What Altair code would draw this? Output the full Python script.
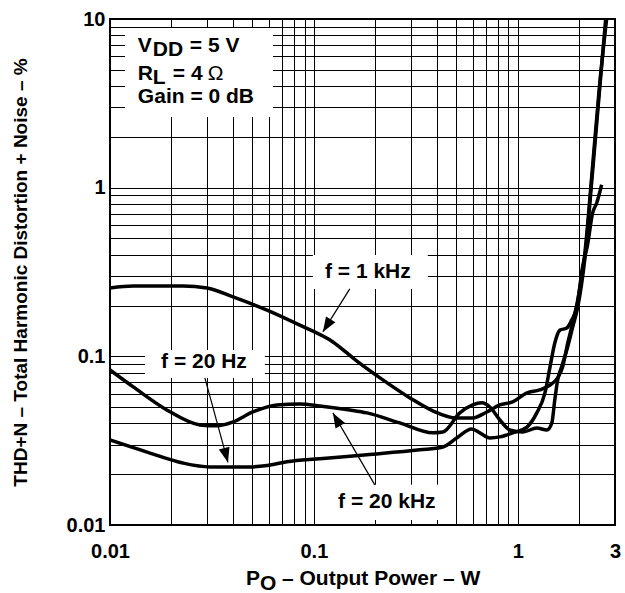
import altair as alt
import pandas as pd

# THD+N (%) versus output power (W), one trace per test frequency
p_1khz = [0.01, 0.013, 0.0228, 0.0299, 0.0401, 0.0589, 0.0853, 0.124, 0.162, 0.211,
          0.296, 0.383, 0.502, 0.601, 0.705, 0.817, 0.944, 1.11, 1.28, 1.44,
          1.57, 1.66, 1.76, 1.86, 1.97, 2.13, 2.31, 2.52, 2.73]
thd_1khz = [0.254, 0.261, 0.261, 0.254, 0.225, 0.188, 0.153, 0.1217, 0.094, 0.0745,
            0.0567, 0.0475, 0.0431, 0.0431, 0.0468, 0.0515, 0.0537, 0.0607, 0.0632, 0.0676,
            0.0745, 0.0865, 0.120, 0.158, 0.216, 0.399, 1.19, 4.06, 10]

p_20khz = [0.01, 0.013, 0.019, 0.0276, 0.0335, 0.0401, 0.0502, 0.0659, 0.0853, 0.107,
           0.15, 0.182, 0.264, 0.383, 0.429, 0.52, 0.601, 0.667, 0.73, 0.817,
           0.914, 1.06, 1.24, 1.39, 1.47, 1.52, 1.57, 1.64, 1.74, 1.86,
           1.97, 2.13, 2.31, 2.52, 2.70]
thd_20khz = [0.083, 0.0659, 0.0481, 0.0392, 0.0387, 0.0408, 0.0468, 0.0515, 0.0522, 0.0508,
             0.0481, 0.0462, 0.0403, 0.0352, 0.0356, 0.0462, 0.0515, 0.053, 0.0501, 0.042,
             0.0366, 0.0356, 0.0376, 0.0366, 0.0403, 0.0552, 0.0724, 0.0865, 0.109, 0.149,
             0.196, 0.372, 1.11, 3.79, 10]

p_20hz = [0.01, 0.0157, 0.0228, 0.0309, 0.0485, 0.0589, 0.0738, 0.107, 0.182, 0.331, 0.429,
          0.502, 0.595, 0.652, 0.73, 0.817, 0.944, 1.11, 1.24, 1.36, 1.44,
          1.52, 1.61, 1.74, 1.84, 1.95, 2.08, 2.20, 2.33, 2.44, 2.58]
thd_20hz = [0.0319, 0.0267, 0.0233, 0.0221, 0.0221, 0.0225, 0.0237, 0.0247, 0.0261, 0.0279, 0.029,
            0.0328, 0.0371, 0.0352, 0.0328, 0.0333, 0.0352, 0.0381, 0.0462, 0.0607, 0.0865,
            0.120, 0.143, 0.147, 0.164, 0.196, 0.339, 0.457, 0.708, 0.811, 1.04]

# log grid lines (every 1..9 step of each decade)
x_grid = [0.01, 0.02, 0.03, 0.04, 0.05, 0.06, 0.07, 0.08, 0.09,
          0.1, 0.2, 0.3, 0.4, 0.5, 0.6, 0.7, 0.8, 0.9, 1, 2, 3]
y_grid = [0.01, 0.02, 0.03, 0.04, 0.05, 0.06, 0.07, 0.08, 0.09,
          0.1, 0.2, 0.3, 0.4, 0.5, 0.6, 0.7, 0.8, 0.9,
          1, 2, 3, 4, 5, 6, 7, 8, 9, 10]
x_labels = [0.01, 0.1, 1, 3]
y_labels = [0.01, 0.1, 1, 10]

# frequency labels: text anchor, white backing box, arrow tail -> tip
labels = ["f = 1 kHz", "f = 20 Hz", "f = 20 kHz"]
label_x = [0.184, 0.0289, 0.228]
label_y = [0.292, 0.0853, 0.01263]
box_x = [0.0989, 0.01486, 0.124]
box_x2 = [0.362, 0.0575, 0.415]
box_y = [0.251, 0.0745, 0.01072]
box_y2 = [0.399, 0.109, 0.0173]
tail_x = [0.15, 0.0292, 0.199]
tail_y = [0.251, 0.0745, 0.0173]
tip_x = [0.1107, 0.0379, 0.124]
tip_y = [0.1396, 0.0235, 0.0462]
tip_angle = [212, 165, 330]

FONT = "Liberation Sans"

rows = []
for name, ps, ts in [("f = 1 kHz", p_1khz, thd_1khz),
                     ("f = 20 kHz", p_20khz, thd_20khz),
                     ("f = 20 Hz", p_20hz, thd_20hz)]:
    for i, (p, t) in enumerate(zip(ps, ts)):
        rows.append({"f": name, "i": i, "P": p, "THD": t})
curves = pd.DataFrame(rows)

notes = pd.DataFrame({
    "text": labels, "lx": label_x, "ly": label_y,
    "bx": box_x, "bx2": box_x2, "by": box_y, "by2": box_y2,
    "tx": tail_x, "ty": tail_y, "hx": tip_x, "hy": tip_y, "ang": tip_angle,
})
# white box behind the operating-conditions block
cond_box = pd.DataFrame({"bx": [0.01185], "bx2": [0.063], "by": [2.62], "by2": [8.84]})
boxes = pd.concat([cond_box, notes[["bx", "bx2", "by", "by2"]]], ignore_index=True)

xs = alt.Scale(type="log", domain=[0.01, 3], nice=False)
ys = alt.Scale(type="log", domain=[0.01, 10], nice=False)

x_axis = alt.Axis(
    values=x_grid, grid=True, ticks=False, tickSize=0, domain=False, title=None,
    labelExpr="indexof(%s, datum.value) >= 0 ? format(datum.value, '~g') : ''" % x_labels,
    labelFlush=False, labelOverlap=False, labelPadding=16,
)
y_axis = alt.Axis(
    values=y_grid, grid=True, ticks=False, tickSize=0, domain=False,
    title="THD+N – Total Harmonic Distortion + Noise – %",
    titleX=-90, titleY=253, titleAngle=270, titleAlign="center", titleBaseline="middle",
    titleFontSize=19,
    labelExpr="indexof(%s, datum.value) >= 0 ? format(datum.value, '~g') : ''" % y_labels,
    labelOverlap=False, labelPadding=5,
)


def X(field):
    return alt.X(field, type="quantitative", scale=xs, axis=x_axis)


def Y(field):
    return alt.Y(field, type="quantitative", scale=ys, axis=y_axis)


white = alt.Chart(boxes).mark_rect(color="white").encode(
    x=X("bx"), x2="bx2", y=Y("by"), y2="by2",
)

lines = alt.Chart(curves).mark_line(
    color="black", strokeWidth=3.5, interpolate="monotone", clip=True
).encode(
    x=X("P"), y=Y("THD"), detail="f:N", order="i:Q",
)

arrows = alt.Chart(notes).mark_rule(color="black", strokeWidth=1.2).encode(
    x=X("tx"), x2="hx", y=Y("ty"), y2="hy",
)

heads = alt.Chart(notes).mark_point(
    shape="M0,0L-0.6,1.6L0.6,1.6Z", filled=True, color="black", opacity=1, size=340
).encode(
    x=X("hx"), y=Y("hy"), angle=alt.Angle("ang:Q", scale=None),
)

label_text = alt.Chart(notes).mark_text(
    font=FONT, fontSize=21, fontWeight="bold", align="center", baseline="alphabetic", color="black"
).encode(
    x=X("lx"), y=Y("ly"), text="text:N",
)

# operating conditions, with subscripts set as separate runs
cond = pd.DataFrame({"x": [0.0137] * 3, "y": [6.37, 4.35, 3.18]})


def cond_run(row, text, dx=0, dy=0, weight="bold"):
    return alt.Chart(cond.iloc[[row]]).mark_text(
        text=text, font=FONT, fontSize=21, fontWeight=weight, align="left",
        baseline="alphabetic", dx=dx, dy=dy, color="black"
    ).encode(x=X("x"), y=Y("y"))


cond_layers = [
    cond_run(0, "V"), cond_run(0, "DD", dx=15, dy=4), cond_run(0, "= 5 V", dx=52),
    cond_run(1, "R"), cond_run(1, "L", dx=15, dy=4), cond_run(1, "= 4", dx=35),
    cond_run(1, "Ω", dx=70, weight="normal"),
    cond_run(2, "Gain = 0 dB"),
]


# x-axis title with subscripted O
def title_run(text, x, y):
    return alt.Chart(cond.iloc[[0]]).mark_text(
        text=text, font=FONT, fontSize=21, fontWeight="bold", align="left",
        baseline="alphabetic", color="black"
    ).encode(x=alt.value(x), y=alt.value(y))


x_title = [title_run("P", 136, 566), title_run("O", 150, 571),
           title_run("– Output Power – W", 172, 566)]

chart = alt.layer(
    white, lines, arrows, heads, label_text, *cond_layers, *x_title
).properties(
    width=505, height=506,
    padding={"left": 110, "top": 19, "right": 10, "bottom": 68},
    autosize=alt.AutoSizeParams(type="none"),
).configure_view(
    stroke="black", strokeWidth=2
).configure_axis(
    gridColor="black", gridWidth=1, gridOpacity=1,
    labelFont=FONT, labelFontSize=20, labelFontWeight="bold", labelColor="black",
    titleFont=FONT, titleFontWeight="bold", titleColor="black",
)

chart.save("out.html", embed_options={"renderer": "svg", "actions": False})
